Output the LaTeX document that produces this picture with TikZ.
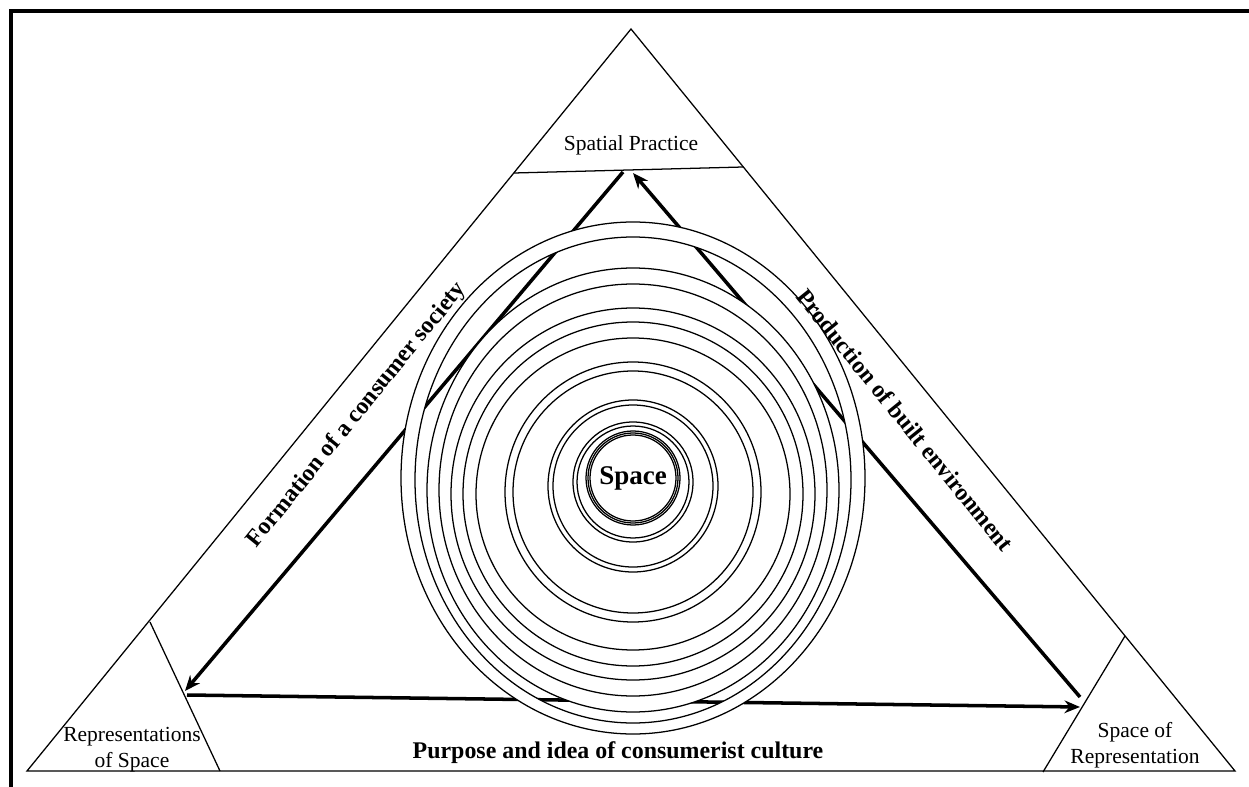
\documentclass[tikz,border=0pt]{standalone}
\usepackage{fontspec}
\setmainfont{Liberation Serif}
\usepackage{tikz}
\usetikzlibrary{arrows,arrows.meta,positioning}

\begin{document}
\begin{tikzpicture}[x=0.025cm,y=-0.025cm,
    every node/.style={inner sep=0pt},
    corner/.style={font=\fontsize{15.3pt}{18.5pt}\selectfont,align=center},
    side/.style={font=\fontsize{17pt}{20pt}\selectfont\bfseries},
    thin line/.style={line width=0.9pt},
    flow/.style={line width=2.5pt,-{Stealth[length=11pt,width=9pt]}}]
    \useasboundingbox (0,0) rectangle (1249,787);

    % frame
    \draw[line width=2.2pt] (1249,11) -- (11,11) -- (11,787);

    % outer triangle and its corners
    \coordinate (apex) at (631,29);
    \coordinate (left) at (27,771);
    \coordinate (right) at (1235,771);
    \draw[thin line] (apex) -- (left) -- (right) -- cycle;
    \draw[thin line] (514,173) -- (743,167);
    \draw[thin line] (150,622) -- (220,771);
    \draw[thin line] (1125,636) -- (1043,772);

    % arrows
    \coordinate (p1) at (623,172);
    \coordinate (p2) at (633,173);
    \coordinate (q1) at (185,691);
    \coordinate (q2) at (187,695);
    \coordinate (r1) at (1080,697);
    \coordinate (r2) at (1080,707);
    \draw[flow] (p1) -- (q1);
    \draw[flow] (r1) -- (p2);
    \draw[flow] (q2) -- (r2);

    % rings
    \coordinate (c) at (633,478);
    \fill[white,even odd rule] (c) ellipse [x radius=232,y radius=256]
        (633,480) ellipse [x radius=218,y radius=243];
    \fill[white] (633,490) ellipse [x radius=206,y radius=222];
    \foreach \cy/\a/\b in {478/232/256,480/218/243,490/206/222,490/194/206,
        494/182/186,494/170/172,494/157/156,492/128/130,492/120/121,
        486/85/86,486/80/81,482/60/60,482/56/56,478/47/47,478/45/45,478/43/43}
        \draw[thin line] (633,\cy) ellipse [x radius=\a,y radius=\b];

    % labels
    \node[font=\fontsize{19.2pt}{22pt}\selectfont\bfseries] (space) at (c) {Space};
    \node[corner] (sp) at (631,145) {Spatial Practice};
    \node[corner] (ros) at (132,750) {Representations\\of Space};
    \node[corner] (sor) at (1135,745) {Space of\\Representation};
    \node[side] (pur) at (618,753) {Purpose and idea of consumerist culture};
    \node[side,rotate=51] (form) at (357,415) {Formation of a consumer society};
    \node[side,rotate=-51] (prod) at (905,420) {Production of built environment};

\end{tikzpicture}
\end{document}
